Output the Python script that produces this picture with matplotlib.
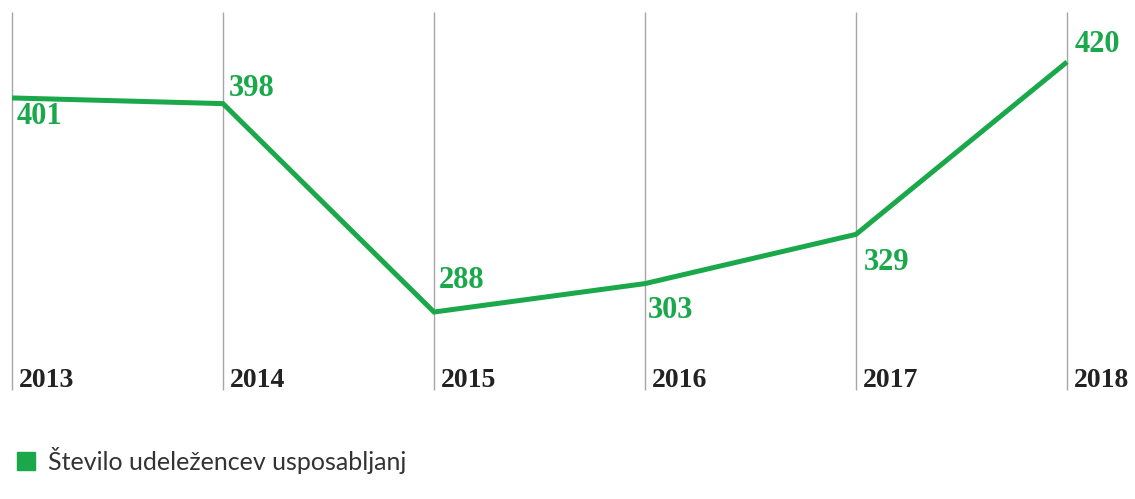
import matplotlib.pyplot as plt
from matplotlib.patches import Patch

# Data
years = ["2013", "2014", "2015", "2016", "2017", "2018"]
participants = [401, 398, 288, 303, 329, 420]
# label offsets in pixels (dx, dy) relative to each point
label_offsets = [(5, -19), (6, 15), (5, 32), (3, -27), (8, -28), (8, 17)]

green = "#1aa84b"
x = list(range(len(years)))

fig = plt.figure(figsize=(11.35, 4.99), dpi=100)
ax = fig.add_axes([0, 0, 1, 1])
ax.set_xlim(-12 / 211, 5 + 68 / 211)
ax.set_ylim(189.3, 452.7)
ax.axis("off")

# vertical guide lines
ax.vlines(x, 246.8, 446.4, color="#a6a6a6", lw=1)

ax.plot(x, participants, color=green, lw=3.6, solid_joinstyle="miter",
        solid_capstyle="butt", zorder=3)

for xi, v, (dx, dy) in zip(x, participants, label_offsets):
    ax.annotate(str(v), (xi, v), xytext=(dx, dy), textcoords="offset pixels",
                ha="left", va="center", color=green, fontsize=22,
                fontweight="bold", family="Liberation Serif")

for xi, yr in zip(x, years):
    ax.annotate(yr, (xi, 252.1), xytext=(7, 0), textcoords="offset pixels",
                ha="left", va="center", color="#222222", fontsize=20,
                fontweight="bold", family="Liberation Serif")

fig.legend(handles=[Patch(color=green, label="Število udeležencev usposabljanj")],
           loc="lower left", bbox_to_anchor=(17 / 1135, 25 / 499), frameon=False,
           borderpad=0, borderaxespad=0,
           handlelength=0.72, handleheight=0.72, handletextpad=0.5,
           prop={"family": "Lato", "size": 18}, labelcolor="#333333")

fig.savefig("out.png", dpi=100)
